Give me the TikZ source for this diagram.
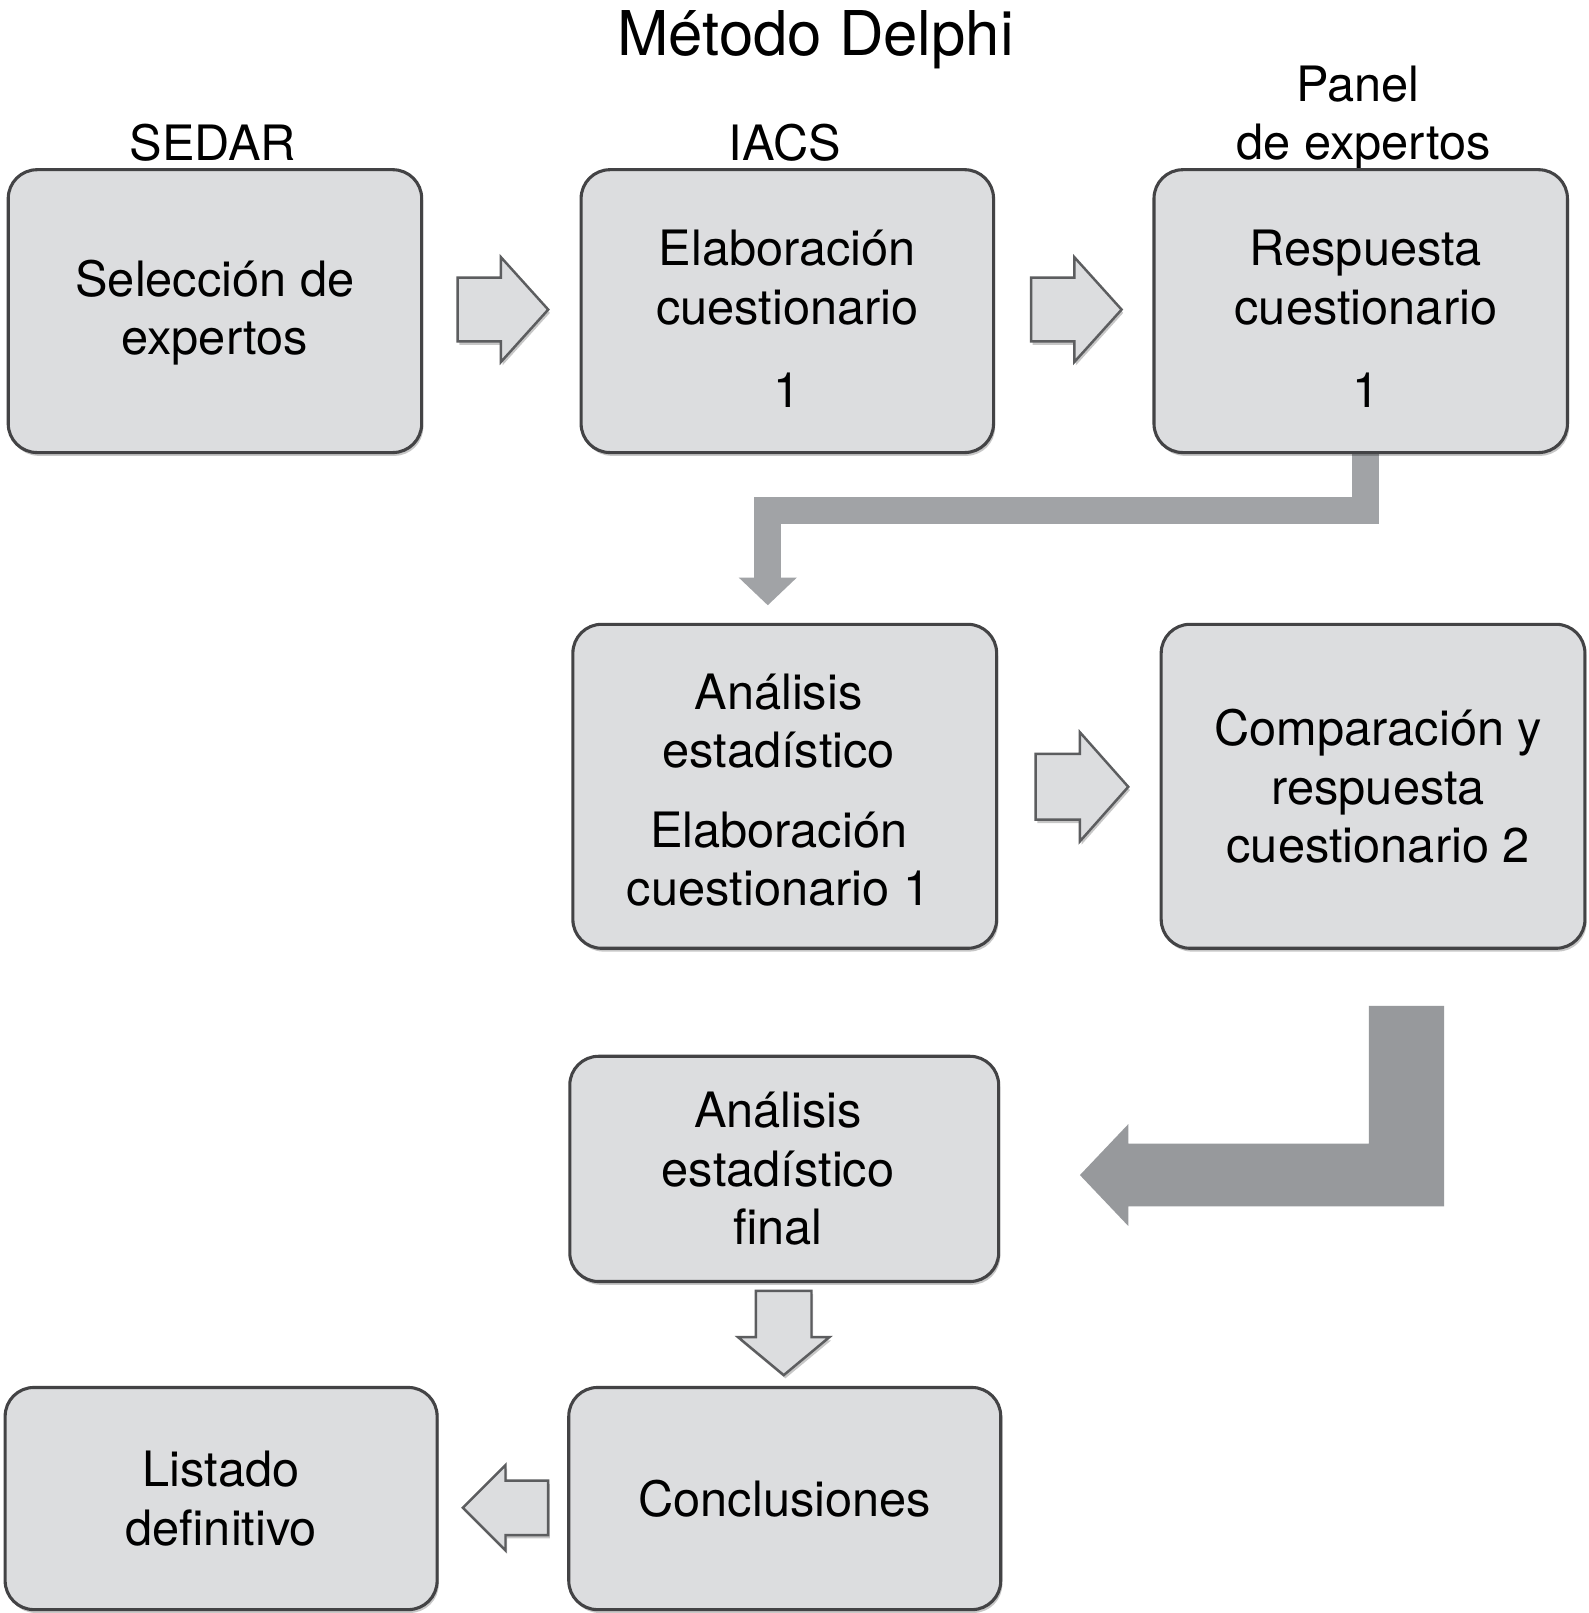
\documentclass[tikz,border=0pt]{standalone}
\usepackage{fontspec}
\setmainfont{TeX Gyre Heros}
\usetikzlibrary{arrows.meta,shadows,backgrounds,calc}
\definecolor{boxfill}{HTML}{DCDDDF}
\definecolor{boxline}{HTML}{434345}
\definecolor{arrowline}{HTML}{5C5D5F}
\definecolor{elbowA}{HTML}{A1A3A6}
\definecolor{elbowB}{HTML}{97999C}
\newcommand{\toplift}[1]{\rule{0pt}{#1}}
\newcommand{\gap}[1]{\rule{#1}{0pt}}
\begin{document}
\begin{tikzpicture}[x=0.5pt,y=-0.5pt,
  softshadow/.style={drop shadow={shadow xshift=0.8pt, shadow yshift=-1.6pt, opacity=0.22, fill=black}},
  stagebox/.style={draw=boxline, fill=boxfill, line width=1.5pt, rounded corners=14pt,
    align=center, font=\fontsize{23.7}{28.5}\selectfont, inner sep=0pt, softshadow},
  harrow/.style={draw=arrowline, fill=boxfill, line width=1.2pt, line join=miter, softshadow},
  heading/.style={font=\fontsize{23.7}{28.5}\selectfont, inner sep=0pt, anchor=base},
  bigbar/.style={fill=elbowB},
  thinbar/.style={draw=elbowA, line width=13pt, line join=miter,
    -{Triangle[width=27.5pt,length=13.5pt]}},
]
\useasboundingbox (0,0) rectangle (1544,1568.3);

% title and column headings
\node[font=\fontsize{30}{36}\selectfont, inner sep=0pt, anchor=base] (title) at (793,53.5) {Método Delphi};
\node[heading] (sedar) at (207,156) {SEDAR};
\node[heading] (iacs) at (763,156) {IACS};
\node[heading] (panel) at (1320,99) {Panel};
\node[heading] (deexp) at (1326,155) {de expertos};

% boxes
\node[stagebox, minimum width=201pt, minimum height=137.5pt] (sel) at (209,302.5) {\toplift{19pt}Selección de\\expertos};
\node[stagebox, minimum width=200.5pt, minimum height=137.5pt] (ela) at (765.5,302.5) {\toplift{25pt}Elaboración\\cuestionario\\[12pt]1};
\node[stagebox, minimum width=201pt, minimum height=137.5pt] (res) at (1323,302.5) {\toplift{25pt}\gap{5pt}Respuesta\\\gap{5pt}cuestionario\\[12pt]\gap{5pt}1};
\node[stagebox, minimum width=206pt, minimum height=157.5pt] (ana) at (763,764.5) {\toplift{21pt}Análisis\gap{6pt}\\estadístico\gap{6pt}\\[10pt]Elaboración\gap{6pt}\\cuestionario 1\gap{6pt}};
\node[stagebox, minimum width=206pt, minimum height=157.5pt] (com) at (1335,764.5) {\gap{5pt}Comparación y\\\gap{5pt}respuesta\\\gap{5pt}cuestionario 2};
\node[stagebox, minimum width=208.5pt, minimum height=109.5pt] (fin) at (762.5,1136.5) {Análisis\gap{6pt}\\estadístico\gap{6pt}\\final\gap{6pt}};
\node[stagebox, minimum width=210pt, minimum height=108pt] (lis) at (215,1457) {Listado\\definitivo};
\node[stagebox, minimum width=210pt, minimum height=108pt] (con) at (763,1457) {Conclusiones};

% anchor points of the block arrows
\coordinate (a1) at ($(sel.east)!0.5!(ela.west)+(1.5,-1.5)$);
\coordinate (a2) at ($(ela.east)!0.5!(res.west)+(2.5,-1.5)$);
\coordinate (a3) at ($(ana.east)!0.5!(com.west)+(3,0.5)$);
\coordinate (a4) at ($(fin.south)!0.5!(con.north)+(-0.75,-1.5)$);
\coordinate (a5) at ($(lis.east)!0.5!(con.west)+(2.5,9)$);

% hollow block arrows
\draw[harrow, shift={(a1)}] (-44,-31) -- (-2,-31) -- (-2,-51) -- (44,0) -- (-2,51) -- (-2,31) -- (-44,31) -- cycle;
\draw[harrow, shift={(a2)}] (-44,-31) -- (-2,-31) -- (-2,-51) -- (44,0) -- (-2,51) -- (-2,31) -- (-44,31) -- cycle;
\draw[harrow, shift={(a3)}] (-45,-32) -- (-2,-32) -- (-2,-53) -- (45,0) -- (-2,53) -- (-2,32) -- (-45,32) -- cycle;
\draw[harrow, shift={(a4)}] (-27,-41) -- (27,-41) -- (27,4) -- (44.5,4) -- (0,41) -- (-44.5,4) -- (-27,4) -- cycle;
\draw[harrow, shift={(a5)}] (41.5,-26.5) -- (0,-26.5) -- (0,-41.5) -- (-41.5,0) -- (0,41.5) -- (0,26.5) -- (41.5,26.5) -- cycle;

% big elbow arrow from "Comparación" back to "Análisis final"
\fill[bigbar] (1331,978) -- (1404,978) -- (1404,1173) -- (1097,1173) -- (1097,1192)
  -- (1050,1142.5) -- (1097,1093) -- (1097,1112) -- (1331,1112) -- cycle;

\begin{scope}[on background layer]
\fill[white] (0,0) rectangle (1544,1568.3);
% elbow connector from "Respuesta" to "Análisis"
\draw[thinbar] ([xshift=2.5pt]res.center) -- ([xshift=2.5pt,yshift=-27.25pt]res.south)
  -| ([xshift=-8.25pt,yshift=8.5pt]ana.north);
\end{scope}
\end{tikzpicture}
\end{document}
